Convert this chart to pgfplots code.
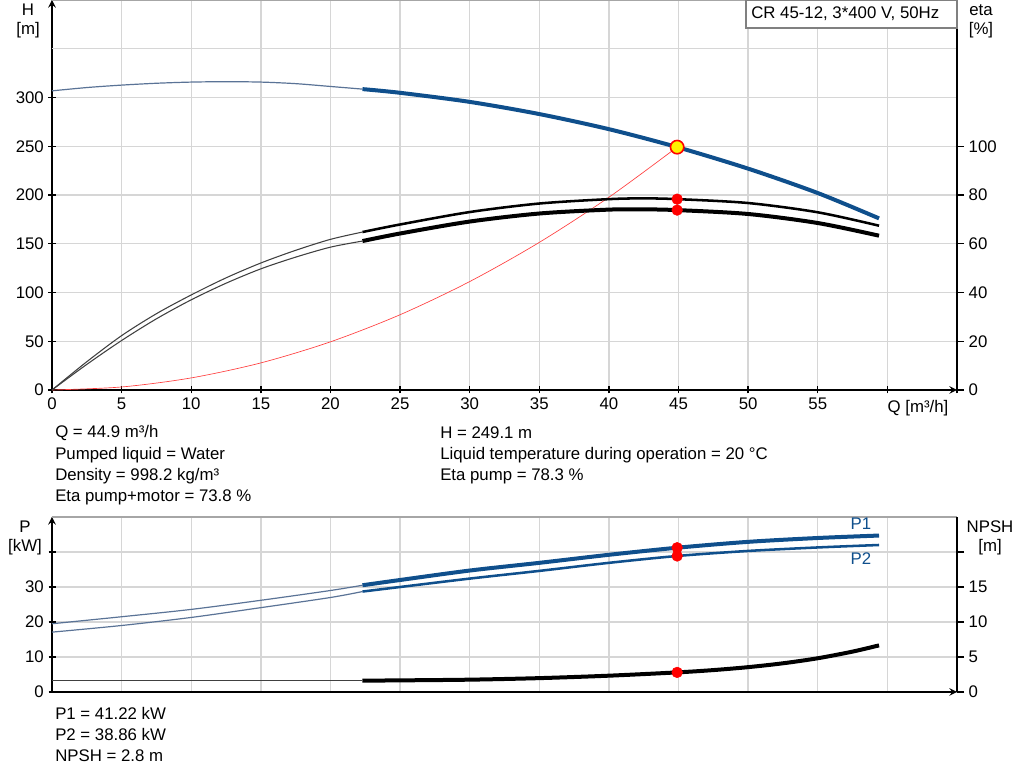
\documentclass[border=0pt]{standalone}
\usepackage{fontspec}
\setmainfont{Liberation Sans}
\usepackage{pgfplots}
\pgfplotsset{compat=1.18}
\definecolor{gblue}{HTML}{0F4F8C}
\definecolor{gthin}{HTML}{5A7396}
\definecolor{gridc}{HTML}{D6D6D6}
\newcommand\f{\fontsize{12.6}{15}\selectfont}
\pgfplotsset{
  base/.style={
    scale only axis, width=678.75pt, anchor=south west,
    xmin=0, xmax=65,
    /pgf/number format/assume math mode=true,
    tick label style={font=\f},
    tick align=outside, major tick length=5.25pt,
    every tick/.style={black, line width=1pt},
    axis line style={black, line width=1.5pt},
    clip=false,
  }
}
\begin{document}
\begin{tikzpicture}[x=0.75pt,y=0.75pt]
\path[use as bounding box] (0,0) rectangle (1024,781);
% ---------------- top chart: H ----------------
\begin{axis}[base, at={(39pt,293.25pt)}, height=292.5pt,
  ymin=0, ymax=400,
  axis lines=left,
  grid=major, grid style={gridc, line width=1pt},
  xtick={0,5,...,65}, xticklabels={0,5,10,15,20,25,30,35,40,45,50,55,,},
  ytick={0,50,...,300},
  extra y ticks={350,400}, extra y tick labels={},
  extra y tick style={major tick length=0pt, grid=major},
]
\draw[gray!70, line width=1pt] (rel axis cs:0,1) -- (rel axis cs:1,1);
\addplot[gthin, line width=0.9pt, smooth] coordinates {
(0,306.8) (2.5,310.2) (5,312.7) (7.5,314.6) (10,315.8) (12.5,316.2) (15,315.8) (17.5,314.2) (20,311.3) (22.3,308.6)};
\addplot[gblue, line width=3pt, smooth] coordinates {
(22.3,308.6) (25,304.8) (30,295.5) (35,283) (40,267.5) (44.9,249.1) (50,227) (55,202) (59.4,176)};
\addplot[red!75, line width=0.5pt, smooth] coordinates {
(0,0) (5,3.1) (10,12.4) (15,27.8) (20,49.4) (25,77.2) (30,111.2) (35,151.4) (40,197.7) (44.9,249.1)};
\addplot[only marks, mark=*, mark size=5pt, mark options={fill=yellow, draw=red, line width=1.2pt}] coordinates {(44.9,249.1)};
\end{axis}
% ---------------- top chart: eta ----------------
\begin{axis}[base, at={(39pt,293.25pt)}, height=292.5pt,
  ymin=0, ymax=160,
  axis y line*=right, axis x line=none,
  ytick={0,20,...,100},
]
\addplot[black!75, line width=0.8pt, smooth] coordinates {
(0,0) (2.5,11.6) (5,22.3) (7.5,31.3) (10,39) (12.5,46) (15,52.1) (17.5,57.3) (20,61.8) (22.3,64.8)};
\addplot[black!75, line width=0.8pt, smooth] coordinates {
(0,0) (2.5,10.5) (5,20.3) (7.5,29.2) (10,37) (12.5,43.8) (15,49.7) (17.5,54.5) (20,58.6) (22.3,61.1)};
\addplot[black, line width=1.9pt, smooth] coordinates {
(22.3,64.8) (25,67.9) (30,73) (35,76.5) (40,78.3) (42.5,78.6) (44.9,78.3) (50,76.7) (55,72.9) (59.4,67.4)};
\addplot[black, line width=3pt, smooth] coordinates {
(22.3,61.1) (25,64.2) (30,69.1) (35,72.4) (40,74) (42.5,74.1) (44.9,73.8) (50,72.2) (55,68.5) (59.4,63.3)};
\addplot[only marks, mark=*, mark size=4pt, red] coordinates {(44.9,78.3) (44.9,73.8)};
\end{axis}
% ---------------- bottom chart: P ----------------
\begin{axis}[base, at={(39pt,66.75pt)}, height=131.25pt,
  ymin=0, ymax=50,
  axis lines=left,
  grid=major, grid style={gridc, line width=1pt},
  xtick={0,5,...,65}, xticklabels={},
  xtick style={draw=none},
  ytick={0,10,...,40}, yticklabels={0,10,20,30,},
]
\draw[gray!70, line width=1.2pt] (rel axis cs:0,1) -- (rel axis cs:1,1);
\addplot[gthin, line width=0.9pt, smooth] coordinates {
(0,19.5) (5,21.5) (10,23.6) (15,26.2) (20,29.0) (22.3,30.5)};
\addplot[gthin, line width=0.9pt, smooth] coordinates {
(0,17.1) (5,19.0) (10,21.3) (15,24.1) (20,27.0) (22.3,28.7)};
\addplot[gblue, line width=3pt, smooth] coordinates {
(22.3,30.5) (25,32.0) (30,34.7) (35,36.9) (40,39.2) (44.9,41.22) (50,42.9) (55,44.0) (59.4,44.7)};
\addplot[gblue, line width=1.9pt, smooth] coordinates {
(22.3,28.7) (25,30.0) (30,32.4) (35,34.6) (40,36.9) (44.9,38.86) (50,40.3) (55,41.3) (59.4,42.0)};
\addplot[only marks, mark=*, mark size=4pt, red] coordinates {(44.9,41.22) (44.9,38.86)};
\end{axis}
% ---------------- bottom chart: NPSH ----------------
\begin{axis}[base, at={(39pt,66.75pt)}, height=131.25pt,
  ymin=0, ymax=25,
  axis y line*=right, axis x line=none,
  ytick={0,5,...,20}, yticklabels={0,5,10,15,},
]
\addplot[black!75, line width=0.8pt] coordinates {(0,1.62) (22.3,1.62)};
\addplot[black, line width=3pt, smooth] coordinates {
(22.3,1.62) (25,1.66) (30,1.76) (35,1.98) (40,2.33) (44.9,2.8) (47.5,3.13) (50,3.55) (52.5,4.1) (55,4.82) (57.5,5.77) (59.4,6.66)};
\addplot[only marks, mark=*, mark size=4pt, red] coordinates {(44.9,2.8)};
\end{axis}
% ---------------- texts ----------------
\draw[gray, line width=0.8pt, fill=white] (746,781) rectangle (957,753);
\node[anchor=west, font=\f, inner sep=0] at (751,767) {CR 45-12, 3*400 V, 50Hz};
\node[font=\f] at (28,771) {H};
\node[font=\f] at (28,751) {[m]};
\node[font=\f] at (981,771) {eta};
\node[font=\f] at (981,751) {[\%]};
\node[font=\f] at (918,373) {Q [m³/h]};
\node[font=\f] at (25,254) {P};
\node[font=\f] at (25,234) {[kW]};
\node[font=\f] at (990,254) {NPSH};
\node[font=\f] at (990,234) {[m]};
\node[font=\f, text=gblue] at (861,257) {P1};
\node[font=\f, text=gblue] at (861,222) {P2};
\begin{scope}[every node/.style={anchor=west, font=\f, inner sep=0}]
\node at (55,348) {Q = 44.9 m³/h};
\node at (55,326) {Pumped liquid = Water};
\node at (55,305) {Density = 998.2 kg/m³};
\node at (55,284) {Eta pump+motor = 73.8 \%};
\node at (440,348) {H = 249.1 m};
\node at (440,326) {Liquid temperature during operation = 20 °C};
\node at (440,305) {Eta pump = 78.3 \%};
\node at (55,68) {P1 = 41.22 kW};
\node at (55,47) {P2 = 38.86 kW};
\node at (55,25) {NPSH = 2.8 m};
\end{scope}
\end{tikzpicture}
\end{document}
